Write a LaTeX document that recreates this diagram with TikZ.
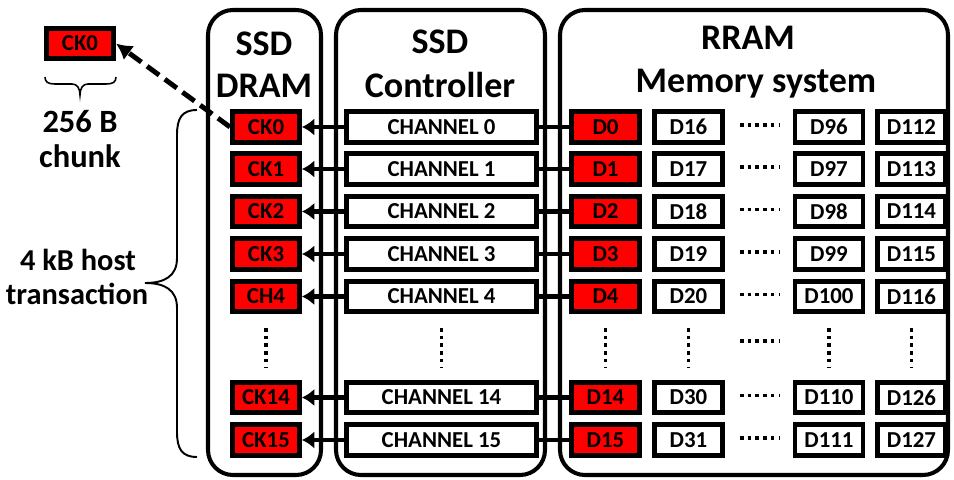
\documentclass[tikz,border=0pt]{standalone}
\usepackage{fontspec}
\setmainfont{Carlito}
\usetikzlibrary{arrows.meta}

\begin{document}
\begin{tikzpicture}[x=0.02cm, y=-0.02cm, >={Latex[length=7pt,width=10pt]},
	box/.style={draw, line width=2.6pt, inner sep=0pt, minimum height=0.61cm, font=\bfseries\fontsize{13}{15}\selectfont},
	ck/.style={box, fill=red, minimum width=1.35cm},
	chan/.style={box, fill=white, minimum width=3.81cm},
	dbox/.style={box, fill=white, minimum width=1.36cm},
	panel/.style={line width=2.3pt, rounded corners=0.5cm},
	title/.style={font=\bfseries\fontsize{20.5}{24}\selectfont, anchor=base},
	note/.style={font=\bfseries\fontsize{18.5}{22}\selectfont, anchor=base},
	dots/.style={line width=2pt, dash pattern=on 2pt off 2.4pt},
	link/.style={line width=2.3pt}]
	\useasboundingbox (0,0) rectangle (954,480);
	% panels
	\draw[panel] (208,10) rectangle (321,475);
	\draw[panel] (336,10) rectangle (545,475);
	\draw[panel] (560,10) rectangle (948,475);
	\node[title] (dramA) at (264,55) {SSD};
	\node[title] (dramB) at (264,97) {DRAM};
	\node[title] (ctrlA) at (440,53) {SSD};
	\node[title] (ctrlB) at (440,97) {Controller};
	\node[title] (rramA) at (748,50) {RRAM};
	\node[title] (rramB) at (756,92) {Memory system};
	% one row per channel
	\foreach \i/\y/\ck in {0/127/CK0, 1/169/CK1, 2/211.5/CK2, 3/254/CK3, 4/296.5/CH4, 14/397.5/CK14, 15/440/CK15} {
		\pgfmathtruncatemacro\nb{\i+16}
		\pgfmathtruncatemacro\nc{\i+96}
		\pgfmathtruncatemacro\nd{\i+112}
		\node[ck] (ck\i) at (266,\y) {\ck};
		\node[chan] (chan\i) at (441.5,\y) {CHANNEL \i};
		\node[dbox, fill=red] (dA\i) at (605.5,\y) {D\i};
		\node[dbox] (dB\i) at (688.5,\y) {D\nb};
		\node[dbox] (dC\i) at (829,\y) {D\nc};
		\node[dbox] (dD\i) at (911.5,\y) {D\nd};
		\draw[link, ->] (chan\i) -- (ck\i);
		\draw[link] (chan\i) -- (dA\i);
		\draw[dots] (740,\y-2) -- (780,\y-2);
	}
	% skipped rows
	\foreach \x in {266,441.5,605.5,688.5,829,911.5} {\draw[dots] (\x,328) -- (\x,368);}
	\draw[dots] (740,341) -- (780,341);
	% one chunk
	\node[ck] (chunk) at (80,43.5) {CK0};
	\draw[line width=0.9pt] (45,77) .. controls (45,82) and (48,84) .. (55,84) -- (72,84) .. controls (77,84) and (80,88) .. (80,95) .. controls (80,88) and (83,84) .. (88,84) -- (106,84) .. controls (113,84) and (116,82) .. (116,77);
	\node[note] (chunkA) at (80,132) {256 B};
	\node[note] (chunkB) at (80,167) {chunk};
	\draw[line width=2.8pt, dash pattern=on 8.5pt off 4pt, -{Latex[length=9pt,width=10pt]}] (ck0.west) -- (chunk.east);
	% host transaction
	\draw[line width=1.1pt] (197,110) .. controls (182,110) and (177,118) .. (177,135) -- (177,258) .. controls (177,276) and (165,283) .. (145,283) .. controls (165,283) and (177,290) .. (177,308) -- (177,432) .. controls (177,449) and (182,457) .. (197,457);
	\node[note, font=\bfseries\fontsize{17.3}{21}\selectfont] (hostA) at (78,270) {4 kB host};
	\node[note, font=\bfseries\fontsize{17.3}{21}\selectfont] (hostB) at (77,304) {transaction};
\end{tikzpicture}
\end{document}
